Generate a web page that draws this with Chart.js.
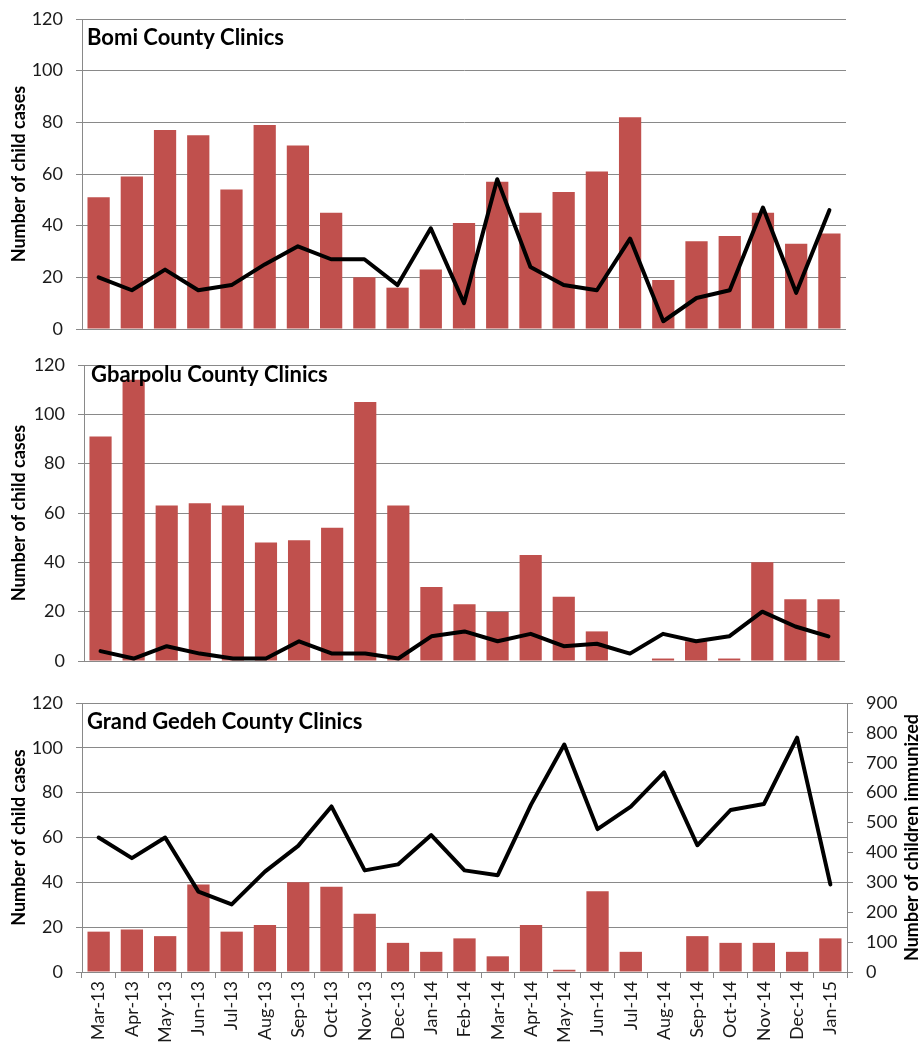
<!DOCTYPE html>
<html>
<head>
<meta charset="utf-8">
<script src="https://cdn.jsdelivr.net/npm/chart.js@4.4.1/dist/chart.umd.min.js"></script>
<style>
  body { margin: 0; background: #fff; }
  .panel { position: absolute; left: 0; }
  canvas { display: block; }
</style>
</head>
<body>
<div class="panel" style="top:0px"><canvas id="bomi" width="921" height="345"></canvas></div>
<div class="panel" style="top:345px"><canvas id="gbarpolu" width="921" height="335"></canvas></div>
<div class="panel" style="top:680px"><canvas id="grandGedeh" width="921" height="362"></canvas></div>
<script>
// months shared by all three panels
const months = ['Mar-13', 'Apr-13', 'May-13', 'Jun-13', 'Jul-13', 'Aug-13', 'Sep-13', 'Oct-13',
  'Nov-13', 'Dec-13', 'Jan-14', 'Feb-14', 'Mar-14', 'Apr-14', 'May-14', 'Jun-14', 'Jul-14',
  'Aug-14', 'Sep-14', 'Oct-14', 'Nov-14', 'Dec-14', 'Jan-15'];

// bars = child cases, line = children immunized
const bomiCases = [51, 59, 77, 75, 54, 79, 71, 45, 20, 16, 23, 41, 57, 45, 53, 61, 82, 19, 34, 36, 45, 33, 37];
const bomiImmunized = [20, 15, 23, 15, 17, 25, 32, 27, 27, 17, 39, 10, 58, 24, 17, 15, 35, 3, 12, 15, 47, 14, 46];

const gbarpoluCases = [91, 114, 63, 64, 63, 48, 49, 54, 105, 63, 30, 23, 20, 43, 26, 12, 0, 1, 8, 1, 40, 25, 25];
const gbarpoluImmunized = [4, 1, 6, 3, 1, 1, 8, 3, 3, 1, 10, 12, 8, 11, 6, 7, 3, 11, 8, 10, 20, 14, 10];

const gedehCases = [18, 19, 16, 39, 18, 21, 40, 38, 26, 13, 9, 15, 7, 21, 1, 36, 9, 0, 16, 13, 13, 9, 15];
const gedehImmunized = [450, 381, 450, 269, 226, 336, 422, 554, 340, 360, 458, 340, 324, 560, 761, 478, 553, 668, 424, 542, 562, 784, 293];

const casesTicks = { min: 0, max: 120, step: 20 };
const immunizedTicks = { min: 0, max: 900, step: 100 };

Chart.defaults.font.family = 'Lato';
Chart.defaults.color = '#1a1a1a';
Chart.defaults.animation = false;

const gridGray = '#898989';
const barRed = '#C0504D';

// panel name inside the plot + the right-hand title (reads bottom to top like the left one)
let panelTitle = {
  id: 'panelTitle',
  afterDraw(chart, args, opts) {
    let ctx = chart.ctx;
    let area = chart.chartArea;
    ctx.save();
    ctx.fillStyle = '#000';
    ctx.font = 'bold 22px Lato';
    ctx.textBaseline = 'middle';
    ctx.fillText(opts.text, area.left + opts.dx, area.top + opts.dy);
    if (opts.rightTitle) {
      ctx.font = 'bold 18px Lato';
      ctx.translate(chart.width - 9, (area.top + area.bottom) / 2);
      ctx.rotate(-Math.PI / 2);
      ctx.textAlign = 'center';
      ctx.fillText(opts.rightTitle, 0, 0);
    }
    ctx.restore();
  }
};

// vertical scales add tick padding above/below the plot; the layout padding handles that here
function noVerticalPadding(scale) {
  scale.paddingTop = 0;
  scale.paddingBottom = 0;
}

function makePanel(id, title, cases, immunized, o) {
  let scales = {
    x: {
      display: o.showMonths,
      offset: true,
      grid: { drawOnChartArea: false, color: gridGray, tickLength: 6 },
      border: { color: gridGray },
      ticks: { minRotation: 90, maxRotation: 90, autoSkip: false, font: { size: 18 }, padding: 3 },
      afterFit(scale) { if (o.xHeight) scale.height = o.xHeight; }
    },
    y: {
      min: casesTicks.min,
      max: casesTicks.max,
      ticks: { stepSize: casesTicks.step, padding: 13, font: { size: 18 } },
      grid: { color: gridGray, tickLength: 6 },
      border: { color: gridGray },
      title: {
        display: true, text: 'Number of child cases', color: '#000',
        font: { size: 18, weight: 'bold' }, padding: { top: 8, bottom: 0 }
      },
      afterFit(scale) {
        scale.width = o.left;
        noVerticalPadding(scale);
      }
    }
  };
  let lineAxis = 'y';
  if (o.rightAxis) {
    lineAxis = 'y1';
    scales.y1 = {
      position: 'right',
      min: immunizedTicks.min,
      max: immunizedTicks.max,
      ticks: { stepSize: immunizedTicks.step, padding: 13, font: { size: 18 } },
      grid: { drawOnChartArea: false, color: gridGray, tickLength: 6 },
      border: { color: gridGray },
      afterFit(scale) {
        scale.width = o.rightWidth;
        noVerticalPadding(scale);
      }
    };
  }

  return new Chart(document.getElementById(id), {
    type: 'bar',
    data: {
      labels: months,
      datasets: [{
        type: 'line',
        data: immunized,
        yAxisID: lineAxis,
        borderColor: '#000',
        borderWidth: 4,
        pointRadius: 0,
        tension: 0,
        borderCapStyle: 'round',
        borderJoinStyle: 'round',
        order: 0
      }, {
        type: 'bar',
        data: cases,
        yAxisID: 'y',
        backgroundColor: barRed,
        barPercentage: 0.67,
        categoryPercentage: 1,
        order: 1
      }]
    },
    options: {
      responsive: false,
      layout: { padding: { top: o.top, bottom: o.bottom, left: 0, right: o.right } },
      plugins: {
        legend: { display: false },
        tooltip: { enabled: false },
        panelTitle: { text: title, dx: o.titleDx, dy: o.titleDy, rightTitle: o.rightTitle }
      },
      scales: scales
    },
    plugins: [panelTitle]
  });
}

makePanel('bomi', 'Bomi County Clinics', bomiCases, bomiImmunized,
  { left: 82, right: 75, top: 19, bottom: 16, showMonths: false, titleDx: 5, titleDy: 18.5 });

makePanel('gbarpolu', 'Gbarpolu County Clinics', gbarpoluCases, gbarpoluImmunized,
  { left: 84, right: 76, top: 20, bottom: 19, showMonths: false, titleDx: 7, titleDy: 10 });

makePanel('grandGedeh', 'Grand Gedeh County Clinics', gedehCases, gedehImmunized,
  { left: 82, right: 0, top: 23, bottom: 0, showMonths: true, xHeight: 70, titleDx: 5, titleDy: 18.5,
    rightAxis: true, rightWidth: 74, rightTitle: 'Number of children immunized' });
</script>
</body>
</html>
